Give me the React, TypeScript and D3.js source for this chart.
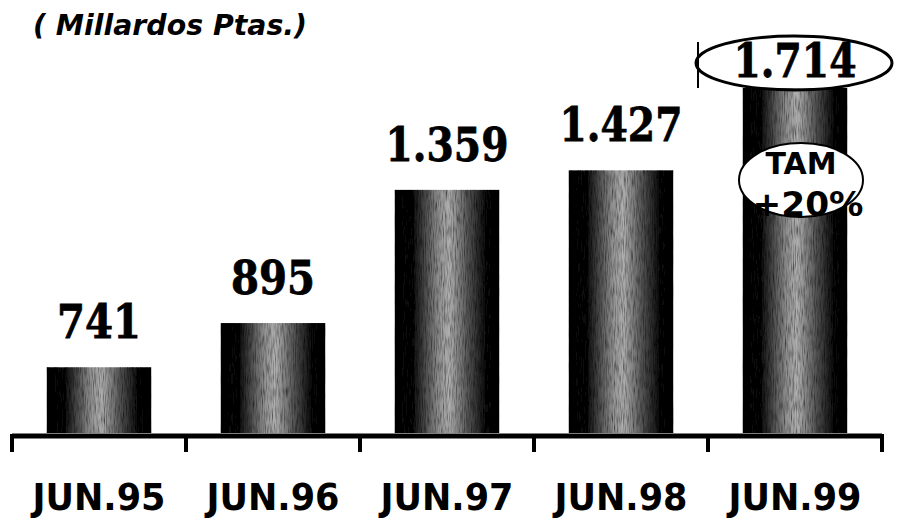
import React from "react";
import * as d3 from "d3";

const categories = ["JUN.95", "JUN.96", "JUN.97", "JUN.98", "JUN.99"];
const values = [741, 895, 1359, 1427, 1714];
const valueLabels = ["741", "895", "1.359", "1.427", "1.714"];
const title = "( Millardos Ptas.)";
const noteLines = ["TAM", "+20%"];

const W = 898;
const H = 524;

// approximate rendered width of a numeric label (digit advance + dot advance)
const labelWidth = (s: string) =>
  s.split("").reduce((acc, ch) => acc + (ch === "." ? 11 : 28), 0);

export default function App() {
  const x = d3.scaleBand<string>().domain(categories).range([12, 882]).paddingInner(0.4).paddingOuter(0.2);
  const y = d3.scaleLinear().domain([512, 1714]).range([433, 88]);
  const step = x.step();
  const tickXs = d3.range(categories.length + 1).map((i) => 12 + i * step);
  const last = categories[categories.length - 1];
  const lastCx = (x(last) as number) + x.bandwidth() / 2;

  return (
    <svg width={W} height={H} style={{ position: "absolute", left: 0, top: 0, background: "#fff" }}>
      <defs>
        <linearGradient id="barGrad" x1="0" x2="1" y1="0" y2="0">
          <stop offset="0" stopColor="#000" />
          <stop offset="0.18" stopColor="#111" />
          <stop offset="0.42" stopColor="#909090" />
          <stop offset="0.52" stopColor="#b0b0b0" />
          <stop offset="0.7" stopColor="#555" />
          <stop offset="0.88" stopColor="#0a0a0a" />
          <stop offset="1" stopColor="#000" />
        </linearGradient>
        <filter id="grain" x="0" y="0" width="1" height="1">
          <feTurbulence type="fractalNoise" baseFrequency="0.9 0.08" numOctaves="2" seed="3" result="n" />
          <feColorMatrix in="n" type="matrix" values="0 0 0 0 0  0 0 0 0 0  0 0 0 0 0  0 0 0 1.6 -0.6" result="dots" />
          <feComposite in="dots" in2="SourceGraphic" operator="in" result="dm" />
          <feMerge>
            <feMergeNode in="SourceGraphic" />
            <feMergeNode in="dm" />
          </feMerge>
        </filter>
      </defs>

      <text x={33} y={35} fontFamily="DejaVu Sans" fontWeight="bold" fontStyle="italic" fontSize={28}
        textLength={274} lengthAdjust="spacingAndGlyphs">{title}</text>

      {categories.map((c, i) => {
        const bx = x(c) as number;
        const by = y(values[i]);
        return (
          <rect key={c} x={bx} y={by} width={x.bandwidth()} height={y(512) - by}
            fill="url(#barGrad)" filter="url(#grain)" />
        );
      })}

      {categories.map((c, i) => {
        const cx = (x(c) as number) + x.bandwidth() / 2;
        const gap = i === categories.length - 1 ? 11 : 29;
        return (
          <text key={c} x={cx} y={y(values[i]) - gap} textAnchor="middle" fontFamily="DejaVu Serif"
            fontWeight="bold" fontSize={46} stroke="#000" strokeWidth={0.8}
            textLength={labelWidth(valueLabels[i])} lengthAdjust="spacingAndGlyphs">{valueLabels[i]}</text>
        );
      })}

      <line x1={698} x2={698} y1={42} y2={88} stroke="#000" strokeWidth={2} />
      <ellipse cx={lastCx - 1} cy={63} rx={98} ry={27} fill="none" stroke="#000" strokeWidth={3} />

      <ellipse cx={lastCx + 6} cy={180} rx={62} ry={37} fill="#fff" stroke="#000" strokeWidth={2} />
      <text x={lastCx + 6} y={174} textAnchor="middle" fontFamily="DejaVu Sans" fontWeight="bold" fontSize={30}>{noteLines[0]}</text>
      <text x={lastCx + 13} y={216} textAnchor="middle" fontFamily="DejaVu Sans" fontWeight="bold" fontSize={34}
        textLength={111} lengthAdjust="spacingAndGlyphs">{noteLines[1]}</text>

      <line x1={tickXs[0]} x2={tickXs[tickXs.length - 1]} y1={436} y2={436} stroke="#000" strokeWidth={5} />
      {tickXs.map((tx, i) => (
        <line key={i} x1={tx} x2={tx} y1={434} y2={452} stroke="#000" strokeWidth={4} />
      ))}

      {categories.map((c) => (
        <text key={c} x={(x(c) as number) + x.bandwidth() / 2} y={510} textAnchor="middle"
          fontFamily="DejaVu Sans" fontWeight="bold" fontSize={38}
          textLength={133} lengthAdjust="spacingAndGlyphs">{c}</text>
      ))}
    </svg>
  );
}
